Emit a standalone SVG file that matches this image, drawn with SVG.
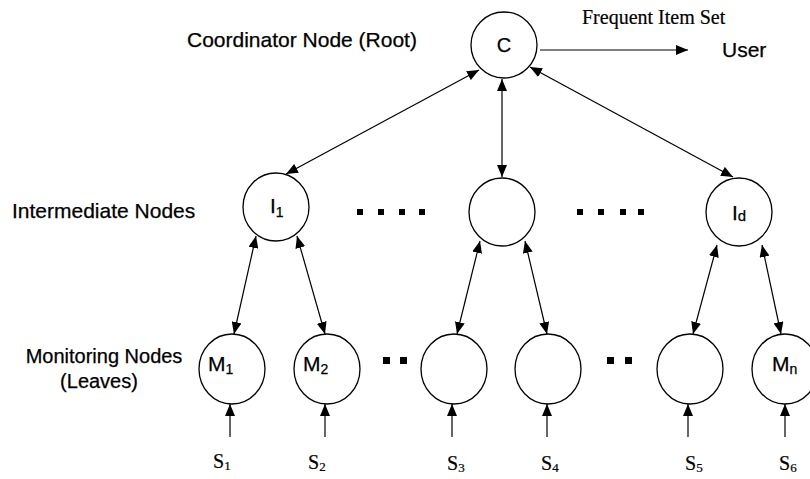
<svg xmlns="http://www.w3.org/2000/svg" width="810" height="479" viewBox="0 0 810 479">
<style>
.node{fill:#fff;stroke:#000;stroke-width:1.3}
.lbl{font-family:"Liberation Sans",Arial,sans-serif;fill:#000;stroke:#000;stroke-width:0.25}
.ser{font-family:"Liberation Serif","Times New Roman",serif;fill:#000;stroke:#000;stroke-width:0.2}
.edge{stroke:#000;stroke-width:1.2;fill:none}
.dot{fill:#000}
</style>
<defs>
<marker id="ah" viewBox="0 0 12 10" refX="12" refY="5" markerWidth="12" markerHeight="10" markerUnits="userSpaceOnUse" orient="auto-start-reverse">
<path d="M0,0 L12,5 L0,10 z" fill="#000"/>
</marker>
</defs>
<rect width="810" height="479" fill="#fff"/>

<g id="labels">
<text class="lbl" x="187" y="47" font-size="21">Coordinator Node (Root)</text>
<text class="lbl" x="12" y="218" font-size="21">Intermediate Nodes</text>
<text class="lbl" x="104" y="363" font-size="20" text-anchor="middle">Monitoring Nodes</text>
<text class="lbl" x="99" y="388" font-size="20" text-anchor="middle">(Leaves)</text>
<text class="ser" x="582" y="24" font-size="20">Frequent Item Set</text>
<text id="user" class="lbl" x="722" y="57" font-size="21">User</text>
</g>

<g id="connectors">
<line class="edge" x1="540" y1="50" x2="688" y2="50" marker-end="url(#ah)"/>
<line class="edge" x1="479" y1="70" x2="286" y2="174" marker-start="url(#ah)" marker-end="url(#ah)"/>
<line class="edge" x1="502" y1="79" x2="502" y2="177" marker-start="url(#ah)" marker-end="url(#ah)"/>
<line class="edge" x1="530" y1="67" x2="733" y2="177" marker-start="url(#ah)" marker-end="url(#ah)"/>
<line class="edge" x1="256" y1="236" x2="234" y2="334" marker-start="url(#ah)" marker-end="url(#ah)"/>
<line class="edge" x1="297" y1="236" x2="325" y2="334" marker-start="url(#ah)" marker-end="url(#ah)"/>
<line class="edge" x1="480" y1="241" x2="457" y2="334" marker-start="url(#ah)" marker-end="url(#ah)"/>
<line class="edge" x1="525" y1="241" x2="547" y2="334" marker-start="url(#ah)" marker-end="url(#ah)"/>
<line class="edge" x1="717" y1="245" x2="693" y2="334" marker-start="url(#ah)" marker-end="url(#ah)"/>
<line class="edge" x1="762" y1="245" x2="781" y2="334" marker-start="url(#ah)" marker-end="url(#ah)"/>
<line class="edge" x1="230" y1="437" x2="230" y2="404" marker-end="url(#ah)"/>
<line class="edge" x1="325" y1="437" x2="325" y2="404" marker-end="url(#ah)"/>
<line class="edge" x1="452" y1="437" x2="452" y2="404" marker-end="url(#ah)"/>
<line class="edge" x1="547" y1="437" x2="547" y2="404" marker-end="url(#ah)"/>
<line class="edge" x1="688" y1="437" x2="688" y2="404" marker-end="url(#ah)"/>
<line class="edge" x1="785" y1="437" x2="785" y2="404" marker-end="url(#ah)"/>
</g>

<g id="node-C"><ellipse class="node" cx="504" cy="45" rx="33" ry="33"/><text class="lbl" x="504" y="52" font-size="20" text-anchor="middle">C</text></g>
<g id="node-I1"><ellipse class="node" cx="276" cy="207" rx="33" ry="34"/><text class="lbl" x="270" y="213" font-size="21">I<tspan font-size="14" dy="4">1</tspan></text></g>
<g id="node-Imid"><ellipse class="node" cx="502" cy="212" rx="33" ry="34"/></g>
<g id="node-Id"><ellipse class="node" cx="739" cy="212" rx="33" ry="34"/><text class="lbl" x="732" y="220" font-size="21">I<tspan font-size="15" dy="1">d</tspan></text></g>

<g id="node-M1"><ellipse class="node" cx="232" cy="369" rx="33" ry="35"/><text class="lbl" x="208" y="371" font-size="21">M<tspan font-size="14" dy="3">1</tspan></text></g>
<g id="node-M2"><ellipse class="node" cx="327" cy="369" rx="33" ry="35"/><text class="lbl" x="303" y="371" font-size="21">M<tspan font-size="14" dy="3">2</tspan></text></g>
<g id="node-M3"><ellipse class="node" cx="454" cy="369" rx="33" ry="35"/></g>
<g id="node-M4"><ellipse class="node" cx="548" cy="369" rx="33" ry="35"/></g>
<g id="node-M5"><ellipse class="node" cx="690" cy="369" rx="33" ry="35"/></g>
<g id="node-Mn"><ellipse class="node" cx="785" cy="369" rx="33" ry="35"/><text class="lbl" x="772" y="371" font-size="21">M<tspan font-size="14" dy="3">n</tspan></text></g>

<g id="ellipsis">
<rect class="dot" x="357" y="209" width="6" height="6"/>
<rect class="dot" x="378" y="209" width="6" height="6"/>
<rect class="dot" x="399" y="209" width="6" height="6"/>
<rect class="dot" x="419" y="209" width="6" height="6"/>
<rect class="dot" x="577" y="209" width="6" height="6"/>
<rect class="dot" x="598" y="209" width="6" height="6"/>
<rect class="dot" x="620" y="209" width="6" height="6"/>
<rect class="dot" x="638" y="209" width="6" height="6"/>
<rect class="dot" x="383" y="357" width="7" height="7"/>
<rect class="dot" x="400" y="357" width="7" height="7"/>
<rect class="dot" x="607" y="357" width="7" height="7"/>
<rect class="dot" x="625" y="357" width="7" height="7"/>
</g>

<g id="sources">
<text class="ser" x="213" y="468" font-size="20">S<tspan font-size="13" dy="2">1</tspan></text>
<text class="ser" x="308" y="469" font-size="20">S<tspan font-size="13" dy="2">2</tspan></text>
<text class="ser" x="447" y="470" font-size="20">S<tspan font-size="13" dy="2">3</tspan></text>
<text class="ser" x="541" y="470" font-size="20">S<tspan font-size="13" dy="2">4</tspan></text>
<text class="ser" x="685" y="470" font-size="20">S<tspan font-size="13" dy="2">5</tspan></text>
<text class="ser" x="779" y="470" font-size="20">S<tspan font-size="13" dy="2">6</tspan></text>
</g>
</svg>
